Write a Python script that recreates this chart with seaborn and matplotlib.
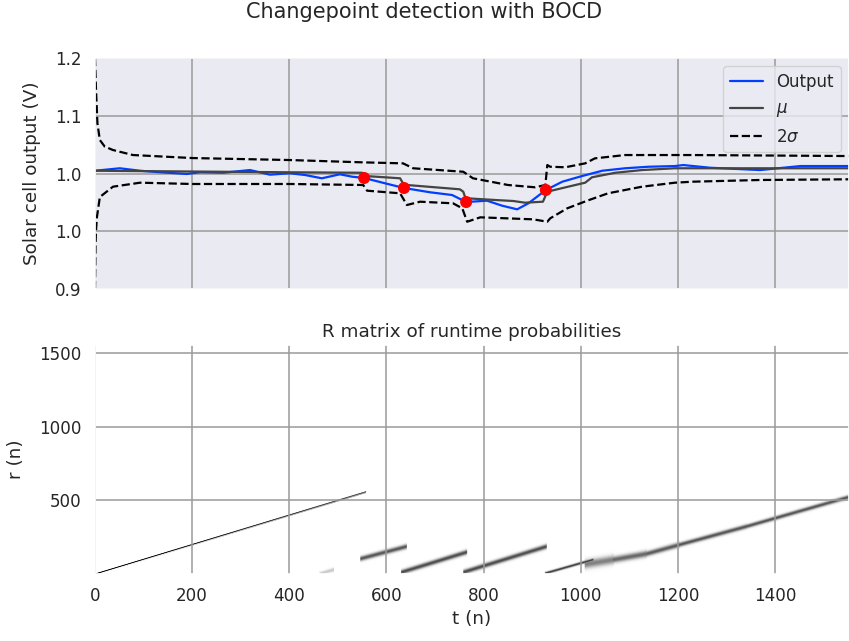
import numpy as np
import pandas as pd
import matplotlib
matplotlib.use("Agg")
import matplotlib.pyplot as plt
import seaborn as sns

# ---------------- data ----------------
out_t = [0, 51, 93, 128, 189, 216, 264, 319, 360, 401, 432, 467, 504, 529, 554,
         597, 636, 690, 735, 764, 807, 838, 869, 892, 928, 962, 1003, 1044, 1091,
         1139, 1194, 1211, 1266, 1369, 1452, 1552]
out_v = [1.0536, 1.0568, 1.0536, 1.0519, 1.0494, 1.0516, 1.0510, 1.0545, 1.0485,
         1.0503, 1.0481, 1.0438, 1.0490, 1.0459, 1.0442, 1.0373, 1.0312, 1.0256,
         1.0221, 1.0130, 1.0147, 1.0082, 1.0035, 1.0113, 1.0286, 1.0394, 1.0468,
         1.0536, 1.0568, 1.0588, 1.0597, 1.0610, 1.0575, 1.0545, 1.0597, 1.0597]

mu_t = [0, 401, 550, 556, 628, 634, 642, 751, 758, 762, 766, 824, 861, 885, 922,
        931, 974, 1009, 1023, 1071, 1126, 1194, 1369, 1552]
mu_v = [1.0536, 1.0516, 1.0510, 1.0468, 1.0438, 1.0373, 1.0351, 1.0295, 1.0264,
        1.0190, 1.0178, 1.0156, 1.0143, 1.0121, 1.0134, 1.0264, 1.0329, 1.0381,
        1.0451, 1.0510, 1.0545, 1.0568, 1.0568, 1.0568]

up_t = [0, 2, 5, 10, 20, 37, 78, 200, 401, 552, 634, 655, 758, 778, 850, 906,
        927, 931, 937, 968, 1009, 1029, 1091, 1231, 1552]
up_v = [1.200, 1.160, 1.115, 1.0935, 1.085, 1.0805, 1.0740, 1.0701, 1.0675,
        1.0645, 1.0632, 1.0568, 1.0523, 1.0438, 1.0351, 1.0321, 1.0351, 1.0610,
        1.0588, 1.0581, 1.0632, 1.0697, 1.0740, 1.0740, 1.0727]

lo_t = [0, 1, 2, 4, 10, 37, 93, 200, 401, 552, 560, 628, 642, 669, 737, 756,
        766, 793, 902, 931, 937, 972, 1013, 1056, 1126, 1194, 1231, 1369, 1552]
lo_v = [0.900, 0.955, 0.975, 0.9935, 1.0195, 1.0329, 1.0381, 1.0364, 1.0364,
        1.0351, 1.0277, 1.0243, 1.0091, 1.0134, 1.0113, 1.0048, 0.9874, 0.9931,
        0.9905, 0.9874, 0.9918, 1.0048, 1.0147, 1.0243, 1.0329, 1.0381, 1.0394,
        1.0416, 1.0425]

cp_t = [554, 636, 764, 928]
cp_v = [1.0442, 1.0312, 1.0130, 1.0286]

# run-length bands of the R matrix: start/end time, start/end run length,
# band spread (in r units) and darkness
seg_t0 = [0, 463, 546, 631, 758, 927, 1009, 1067, 1136, 1204, 1342]
seg_t1 = [557, 491, 642, 765, 930, 1025, 1067, 1136, 1204, 1342, 1552]
seg_r0 = [0, 1, 103, 12, 12, 5, 66, 97, 137, 199, 323]
seg_r1 = [555, 29, 187, 148, 187, 97, 97, 137, 199, 323, 522]
seg_sd = [1.5, 9, 11, 11, 11, 6, 20, 15, 12, 10, 9]
seg_lv = [2.0, 0.22, 0.68, 0.72, 0.72, 0.8, 0.5, 0.6, 0.66, 0.7, 0.72]

N = 1552
ytick_pos = [0.9, 0.975, 1.05, 1.125, 1.2]
ytick_lab = ["0.9", "1.0", "1.0", "1.1", "1.2"]
xticks = [0, 200, 400, 600, 800, 1000, 1200, 1400]
rticks = [500, 1000, 1500]

# ---------------- style ----------------
sns.set_theme(style="darkgrid", context="notebook", font_scale=1.1)
plt.rcParams["font.family"] = ["DejaVu Sans"]
grid_kw = dict(color="#9a9a9a", linewidth=1.1)

fig = plt.figure(figsize=(8.49, 6.41), dpi=100)
ax1 = fig.add_axes([0.1119, 0.5491, 0.8881, 0.3604])
ax2 = fig.add_axes([0.1119, 0.1053, 0.8881, 0.3559])

# ---------------- top panel ----------------
sns.lineplot(x=out_t, y=out_v, ax=ax1, color="#023eff", lw=1.6, label="Output")
sns.lineplot(x=mu_t, y=mu_v, ax=ax1, color="#444444", lw=1.6, label=r"$\mu$")
sns.lineplot(x=up_t, y=up_v, ax=ax1, color="black", lw=1.6, linestyle="--",
             label=r"$2\sigma$")
sns.lineplot(x=lo_t, y=lo_v, ax=ax1, color="black", lw=1.6, linestyle="--")
sns.scatterplot(x=cp_t, y=cp_v, ax=ax1, color="red", s=75, edgecolor="none",
                zorder=5, legend=False)
ax1.set_xlim(0, N)
ax1.set_ylim(0.9, 1.2)
ax1.set_yticks(ytick_pos)
ax1.set_yticklabels(ytick_lab)
ax1.set_xticks(xticks)
ax1.set_xticklabels([])
ax1.set_ylabel("Solar cell output (V)", labelpad=10)
ax1.set_xlabel("")
ax1.grid(True, **grid_kw)
ax1.legend(loc="upper right", fontsize=12)

# ---------------- bottom panel: R matrix ----------------
ncol, nrow, sub = 776, 230, 8
tc = (np.arange(ncol) + 0.5) * N / ncol
rf = (np.arange(nrow * sub) + 0.5) * N / (nrow * sub)
R = np.zeros((nrow * sub, ncol))
for t0, t1, r0, r1, sd, lv in zip(seg_t0, seg_t1, seg_r0, seg_r1, seg_sd, seg_lv):
    m = (tc >= t0) & (tc <= t1)
    rc = r0 + (tc[m] - t0) * (r1 - r0) / (t1 - t0)
    band = lv * np.exp(-0.5 * ((rf[:, None] - rc[None, :]) / sd) ** 2)
    R[:, m] = np.maximum(R[:, m], band)
R = R.reshape(nrow, sub, ncol).mean(axis=1)
R = np.clip(R, 0, 1)

ax2.imshow(R, origin="lower", extent=[0, N, 0, N], aspect="auto",
           cmap="gray_r", vmin=0, vmax=1, interpolation="bilinear")
ax2.set_xlim(0, N)
ax2.set_ylim(0, N)
ax2.set_xticks(xticks)
ax2.set_yticks(rticks)
ax2.grid(True, **grid_kw)
ax2.set_title("R matrix of runtime probabilities")
ax2.set_xlabel("t (n)")
ax2.set_ylabel("r (n)", labelpad=10)

fig.suptitle("Changepoint detection with BOCD", y=0.981, va="center", fontsize=15)
fig.savefig("out.png", dpi=100)
